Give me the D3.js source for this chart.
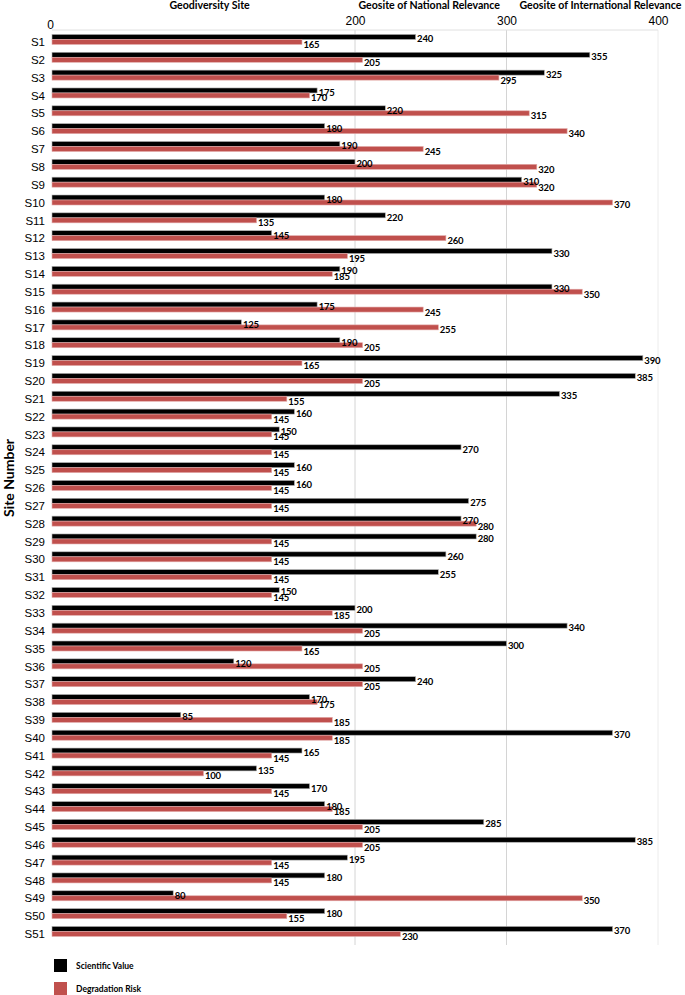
<!DOCTYPE html>
<html>
<head>
<meta charset="utf-8">
<script src="https://cdn.jsdelivr.net/npm/d3@7"></script>
<style>
	body { margin: 0; background: #fff; }
	svg { font-family: Lato, "Open Sans", sans-serif; }
	.axis path, .axis line { stroke: none; }
	.axis text { font-size: 12px; fill: #000; }
</style>
</head>
<body>
<svg id="chart" width="685" height="995"></svg>
<script>
var sites = ["S1","S2","S3","S4","S5","S6","S7","S8","S9","S10","S11","S12","S13","S14","S15","S16","S17","S18","S19","S20",
	"S21","S22","S23","S24","S25","S26","S27","S28","S29","S30","S31","S32","S33","S34","S35","S36","S37","S38","S39","S40",
	"S41","S42","S43","S44","S45","S46","S47","S48","S49","S50","S51"];
var scientificValue = [240,355,325,175,220,180,190,200,310,180,220,145,330,190,330,175,125,190,390,385,
	335,160,150,270,160,160,275,270,280,260,255,150,200,340,300,120,240,170,85,370,
	165,135,170,180,285,385,195,180,80,180,370];
var degradationRisk = [165,205,295,170,315,340,245,320,320,370,135,260,195,185,350,245,255,205,165,205,
	155,145,145,145,145,145,145,280,145,145,145,145,185,205,165,205,205,175,185,185,
	145,100,145,185,205,205,145,145,350,155,230];
var tickValues = [0, 200, 300, 400];
var classLabels = [
	{ name: "Geodiversity Site", at: 104 },
	{ name: "Geosite of National Relevance", at: 249 },
	{ name: "Geosite of International Relevance", at: 362 }
];
var seriesNames = ["Scientific Value", "Degradation Risk"];
var colours = { sci: "#000000", deg: "#c0504d" };

var svg = d3.select("#chart");

// scales
var xScale = d3.scaleLinear()
	.domain([0, 400])
	.range([52, 658]);
var yScale = d3.scaleBand()
	.domain(sites)
	.range([26.6, 944.3])
	.padding(0.44);
var subScale = d3.scaleBand()
	.domain(["sci", "deg"])
	.range([0, yScale.bandwidth()]);

var rows = sites.map(function(s, i) {
	return { site: s, sci: scientificValue[i], deg: degradationRisk[i] };
});

// gridlines and top line
svg.selectAll(".grid")
	.data(tickValues.slice(1))
	.enter()
	.append("line")
	.attr("class", "grid")
	.attr("x1", function(d) { return xScale(d); })
	.attr("x2", function(d) { return xScale(d); })
	.attr("y1", 30)
	.attr("y2", 945)
	.style("stroke", function(d) { return d == 400 ? "#ececec" : "#d4d4d4"; })
	.style("stroke-width", 1);
svg.append("line")
	.attr("x1", xScale(0))
	.attr("x2", xScale(400))
	.attr("y1", 30)
	.attr("y2", 30)
	.style("stroke", "#e0e0e0");

// top axis
var xAxis = d3.axisTop(xScale)
	.tickValues(tickValues)
	.tickSize(0)
	.tickPadding(5);
var xAxisGroup = svg.append("g")
	.attr("class", "axis x")
	.attr("transform", "translate(0,30)")
	.call(xAxis);
xAxisGroup.selectAll("text")
	.attr("dy", function(d) { return d == 0 ? "4px" : "0px"; })
	.attr("dx", function(d) { return d == 0 ? "-2px" : "0px"; });

svg.selectAll(".class-label")
	.data(classLabels)
	.enter()
	.append("text")
	.attr("class", "class-label")
	.attr("x", function(d) { return xScale(d.at); })
	.attr("y", 9)
	.style("text-anchor", "middle")
	.style("font-size", "10.6px")
	.style("font-weight", "bold")
	.text(function(d) { return d.name; });

// y axis
var yAxis = d3.axisLeft(yScale)
	.tickSize(0)
	.tickPadding(7);
svg.append("g")
	.attr("class", "axis y")
	.attr("transform", "translate(" + xScale(0) + ",3)")
	.call(yAxis)
	.selectAll("text")
	.style("font-size", "11.5px");

svg.append("text")
	.attr("transform", "translate(14,478) rotate(-90)")
	.style("text-anchor", "middle")
	.style("font-size", "14px")
	.style("font-weight", "bold")
	.text("Site Number");

// bars
var barGroups = svg.selectAll(".bar-group")
	.data(rows)
	.enter()
	.append("g")
	.attr("class", "bar-group")
	.attr("transform", function(d) { return "translate(0," + yScale(d.site) + ")"; });

barGroups.each(function(d) {
	var g = d3.select(this);
	["sci", "deg"].forEach(function(key) {
		g.append("rect")
			.attr("x", xScale(0))
			.attr("y", subScale(key))
			.attr("width", xScale(d[key]) - xScale(0))
			.attr("height", subScale.bandwidth())
			.style("fill", colours[key])
			.style("stroke", key == "sci" ? "#b0b0b0" : "#e2a9a8")
			.style("stroke-width", 0.6);
	});
});

// value labels go on top of every bar
var labelGroups = svg.selectAll(".label-group")
	.data(rows)
	.enter()
	.append("g")
	.attr("class", "label-group")
	.attr("transform", function(d) { return "translate(0," + yScale(d.site) + ")"; });

labelGroups.each(function(d) {
	var g = d3.select(this);
	["sci", "deg"].forEach(function(key) {
		g.append("text")
			.attr("x", xScale(d[key]) + 1.5)
			.attr("y", subScale(key) + subScale.bandwidth() / 2)
			.attr("dy", key == "sci" ? "5.5px" : "6px")
			.style("font-size", "9.5px")
			.style("font-weight", "bold")
			.style("letter-spacing", "-0.2px")
			.text(d[key]);
	});
});

// legend
var legend = svg.selectAll(".legend")
	.data(seriesNames)
	.enter()
	.append("g")
	.attr("class", "legend")
	.attr("transform", function(d, i) { return "translate(54," + (959 + i * 23) + ")"; });
legend.append("rect")
	.attr("width", 13)
	.attr("height", 13)
	.style("fill", function(d, i) { return i == 0 ? colours.sci : colours.deg; });
legend.append("text")
	.attr("x", 22)
	.attr("y", 10)
	.style("font-size", "8.5px")
	.style("font-weight", "bold")
	.text(function(d) { return d; });
</script>
</body>
</html>
